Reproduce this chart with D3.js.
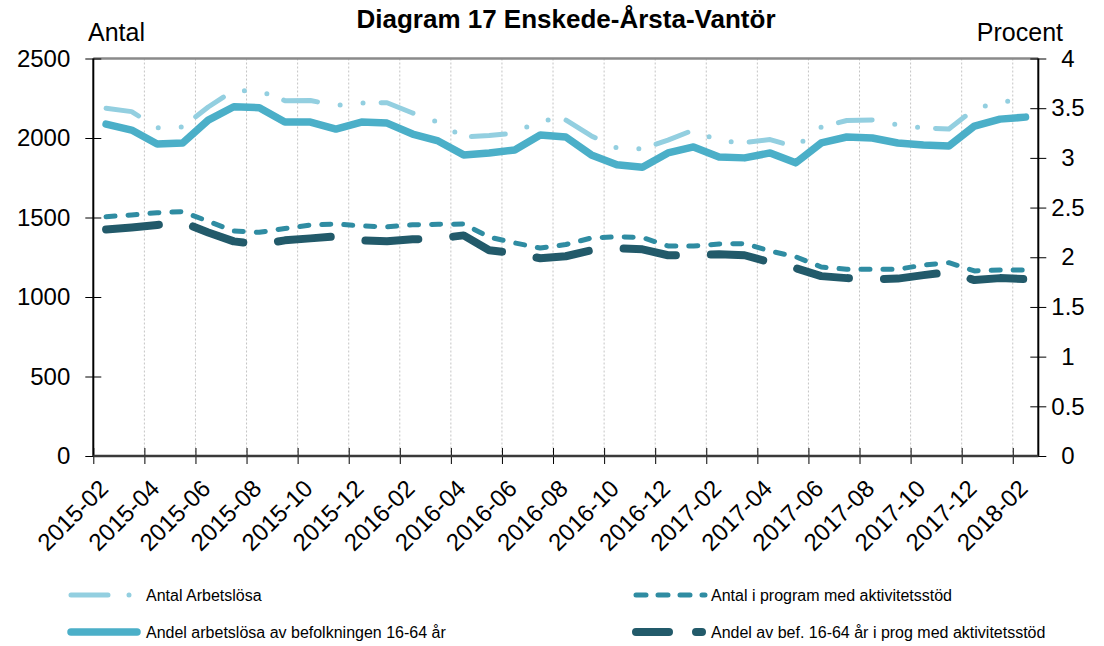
<!DOCTYPE html>
<html>
<head>
<meta charset="utf-8">
<script src="https://cdn.jsdelivr.net/npm/d3@7"></script>
<style>
body { margin: 0; background: #fff; }
text { font-family: "Liberation Sans", Arial, sans-serif; fill: #000; }
</style>
</head>
<body>
<div id="chart"></div>
<script>
var months = ["2015-02","2015-03","2015-04","2015-05","2015-06","2015-07","2015-08","2015-09","2015-10","2015-11","2015-12",
    "2016-01","2016-02","2016-03","2016-04","2016-05","2016-06","2016-07","2016-08","2016-09","2016-10","2016-11","2016-12",
    "2017-01","2017-02","2017-03","2017-04","2017-05","2017-06","2017-07","2017-08","2017-09","2017-10","2017-11","2017-12",
    "2018-01","2018-02"];

// Antal (left axis)
var antalArbetslosa = [2187,2166,2065,2069,2195,2299,2296,2235,2236,2205,2220,2222,2157,2100,2006,2016,2031,2113,2113,2013,
    1937,1931,1987,2050,1981,1972,1990,1943,2069,2110,2113,2082,2063,2057,2182,2226,2245];
var antalProgram = [1505,1516,1530,1537,1476,1415,1407,1431,1453,1459,1447,1441,1454,1457,1459,1377,1340,1308,1330,1371,
    1379,1374,1321,1321,1333,1336,1289,1253,1189,1174,1174,1174,1201,1216,1164,1170,1170];

// Procent (right axis)
var andelArbetslosa = [3.34,3.28,3.14,3.15,3.38,3.515,3.505,3.36,3.36,3.29,3.36,3.35,3.24,3.17,3.03,3.05,3.08,3.23,3.21,3.03,
    2.93,2.905,3.05,3.11,3.01,3.0,3.05,2.95,3.15,3.21,3.2,3.15,3.13,3.12,3.32,3.39,3.41];
var andelProgram = [2.28,2.3,2.325,2.35,2.25,2.16,2.13,2.17,2.19,2.21,2.17,2.16,2.18,2.19,2.22,2.07,2.04,1.99,2.01,2.07,
    2.09,2.08,2.02,2.02,2.03,2.02,1.95,1.89,1.81,1.79,1.78,1.785,1.82,1.85,1.77,1.79,1.78];

var leftTicks = [0,500,1000,1500,2000,2500];
var rightTicks = [0,0.5,1,1.5,2,2.5,3,3.5,4];

var width = 1104;
var height = 646;
var plotLeft = 93.3, plotRight = 1038.3, plotTop = 58.5, plotBottom = 456;

var svg = d3.select("#chart")
    .append("svg")
    .attr("width", width)
    .attr("height", height);

var x = d3.scaleBand().domain(months).range([plotLeft, plotRight]);
var xi = d3.scaleLinear().domain([0, months.length]).range([plotLeft, plotRight]);
var yL = d3.scaleLinear().domain([0, 2500]).range([plotBottom, plotTop]);
var yR = d3.scaleLinear().domain([0, 4]).range([plotBottom, plotTop]);

var evens = d3.range(0, months.length, 2);

// vertical grid
svg.selectAll("line.grid")
    .data(evens.slice(1))
    .enter()
    .append("line")
    .attr("class", "grid")
    .attr("x1", function(d) { return xi(d) })
    .attr("x2", function(d) { return xi(d) })
    .attr("y1", plotTop)
    .attr("y2", plotBottom)
    .attr("stroke", "#c4c4c4")
    .attr("stroke-width", 1)
    .attr("stroke-dasharray", "2,2");

// top border
svg.append("line")
    .attr("x1", plotLeft).attr("x2", plotRight)
    .attr("y1", plotTop).attr("y2", plotTop)
    .attr("stroke", "#8a8a8a")
    .attr("stroke-width", 2.5);

function cx(d, i) { return x(months[i]) + x.bandwidth() / 2 }

var lineL = d3.line().x(cx).y(function(d) { return yL(d) });
var lineR = d3.line().x(cx).y(function(d) { return yR(d) });

var series = [
    {name: "Antal Arbetslösa", values: antalArbetslosa, gen: lineL, color: "#93cfe0", w: 5, dash: "34 23 0 23 0 18",
        lx: 68, ly: 595, legDash: "37 21 0 100", lw: 66},
    {name: "Andel arbetslösa av befolkningen 16-64 år", values: andelArbetslosa, gen: lineR, color: "#4bafc8", w: 7.5, dash: null,
        lx: 68, ly: 632, legDash: null, lw: 66},
    {name: "Antal i program med aktivitetsstöd", values: antalProgram, gen: lineL, color: "#2f8ca2", w: 5, dash: "9 13",
        lx: 633, ly: 595, legDash: "10 12", lw: 69},
    {name: "Andel av bef. 16-64 år i prog med aktivitetsstöd", values: andelProgram, gen: lineR, color: "#225a6a", w: 8, dash: "53 35",
        lx: 633, ly: 632, legDash: "33 27 10", lw: 66}
];

series.forEach(function(s) {
    svg.append("path")
        .attr("d", s.gen(s.values))
        .attr("fill", "none")
        .attr("stroke", s.color)
        .attr("stroke-width", s.w)
        .attr("stroke-linecap", "round")
        .attr("stroke-linejoin", "round")
        .attr("stroke-dasharray", s.dash);
});

// left axis
var gL = svg.append("g")
    .attr("transform", "translate(" + (plotLeft + 8) + ",0)")
    .call(d3.axisLeft(yL).tickValues(leftTicks).tickSize(16).tickPadding(15).tickFormat(d3.format("d")));
gL.select(".domain").remove();
gL.selectAll("text").style("font-size", "24px").style("font-family", "'Liberation Sans', Arial, sans-serif");
gL.selectAll("line").attr("stroke", "#000");

// right axis
var gR = svg.append("g")
    .attr("transform", "translate(" + (plotRight - 8) + ",0)")
    .call(d3.axisRight(yR).tickValues(rightTicks).tickSize(16).tickFormat(function(d) { return String(d) }));
gR.select(".domain").remove();
gR.selectAll("text")
    .attr("x", 1068 - (plotRight - 8))
    .attr("text-anchor", "middle")
    .style("font-size", "24px").style("font-family", "'Liberation Sans', Arial, sans-serif");
gR.selectAll("line").attr("stroke", "#000");

// bottom axis
var gB = svg.append("g")
    .attr("transform", "translate(0," + (plotBottom - 8) + ")")
    .call(d3.axisBottom(xi).tickValues(evens).tickSize(16).tickFormat(function(d) { return months[d] }));
gB.select(".domain").remove();
gB.selectAll("line").attr("stroke", "#000");
gB.selectAll("text")
    .attr("y", 0)
    .attr("dy", "0.35em")
    .attr("text-anchor", "end")
    .attr("transform", "translate(10,36) rotate(-45)")
    .style("font-size", "24px").style("font-family", "'Liberation Sans', Arial, sans-serif");

// axis lines
svg.append("line")
    .attr("x1", plotLeft).attr("x2", plotLeft).attr("y1", plotTop).attr("y2", plotBottom)
    .attr("stroke", "#000").attr("stroke-width", 2);
svg.append("line")
    .attr("x1", plotRight).attr("x2", plotRight).attr("y1", plotTop).attr("y2", plotBottom)
    .attr("stroke", "#000").attr("stroke-width", 2);
svg.append("line")
    .attr("x1", plotLeft).attr("x2", plotRight).attr("y1", plotBottom).attr("y2", plotBottom)
    .attr("stroke", "#3a3a3a").attr("stroke-width", 2.5);

// titles
svg.append("text")
    .attr("x", 566).attr("y", 28)
    .attr("text-anchor", "middle")
    .style("font-size", "26px").style("font-weight", "bold")
    .text("Diagram 17 Enskede-Årsta-Vantör");
svg.append("text")
    .attr("x", 88).attr("y", 41)
    .style("font-size", "25px")
    .text("Antal");
svg.append("text")
    .attr("x", 1063).attr("y", 41)
    .attr("text-anchor", "end")
    .style("font-size", "25px")
    .text("Procent");

// legend
series.forEach(function(s) {
    svg.append("line")
        .attr("x1", s.lx + 3).attr("x2", s.lx + 3 + s.lw)
        .attr("y1", s.ly).attr("y2", s.ly)
        .attr("stroke", s.color)
        .attr("stroke-width", s.w)
        .attr("stroke-linecap", "round")
        .attr("stroke-dasharray", s.legDash);
    svg.append("text")
        .attr("x", s.lx + 78).attr("y", s.ly)
        .attr("dy", "0.35em")
        .style("font-size", "16px")
        .text(s.name);
});
</script>
</body>
</html>
